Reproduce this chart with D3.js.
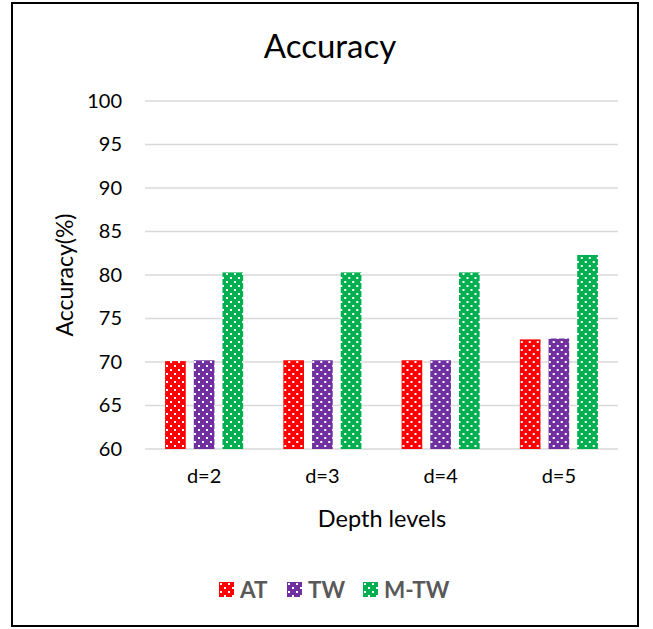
<!DOCTYPE html>
<html>
<head>
<meta charset="utf-8">
<script src="https://cdn.jsdelivr.net/npm/d3@7"></script>
<style>
  body { margin: 0; background: #fff; }
  svg { font-family: Lato, "Open Sans", sans-serif; }
</style>
</head>
<body>
<svg width="653" height="629"></svg>
<script>
// chart data
const categories = ['d=2', 'd=3', 'd=4', 'd=5'];
const seriesNames = ['AT', 'TW', 'M-TW'];
const atValues = [70.1, 70.2, 70.2, 72.6];
const twValues = [70.2, 70.2, 70.2, 72.7];
const mtwValues = [80.3, 80.3, 80.3, 82.3];
const yTicks = [60, 65, 70, 75, 80, 85, 90, 95, 100];
const colors = ['#ff0000', '#7030a0', '#00b050'];

const seriesValues = [atValues, twValues, mtwValues];

const svg = d3.select('svg');
const width = 653, height = 629;
const padding = {top: 101, right: 35, bottom: 180, left: 145};

// outer frame
svg.append('rect')
    .attr('x', 12).attr('y', 3)
    .attr('width', 626).attr('height', 623)
    .attr('fill', '#fff')
    .attr('stroke', '#000')
    .attr('stroke-width', 2);

// dotted fill patterns, one per series
const defs = svg.append('defs');
colors.forEach((c, i) => {
    const p = defs.append('pattern')
        .attr('id', 'dots' + i)
        .attr('patternUnits', 'userSpaceOnUse')
        .attr('width', 8).attr('height', 8);
    p.append('rect').attr('width', 8).attr('height', 8).attr('fill', c);
    p.append('rect').attr('x', 1).attr('y', 1).attr('width', 2).attr('height', 2).attr('fill', '#fff');
    p.append('rect').attr('x', 5).attr('y', 5).attr('width', 2).attr('height', 2).attr('fill', '#fff');
});

const x0 = d3.scaleBand()
    .domain(categories)
    .range([padding.left, width - padding.right])
    .padding(0);

const x1 = d3.scaleBand()
    .domain(seriesNames)
    .range([x0.bandwidth() * 0.17, x0.bandwidth() * 0.83])
    .paddingInner(0.28)
    .paddingOuter(0);

const yScale = d3.scaleLinear()
    .domain([60, 100])
    .range([height - padding.bottom, padding.top]);

// gridlines
svg.append('g')
    .selectAll('line')
    .data(yTicks)
    .enter().append('line')
    .attr('x1', padding.left)
    .attr('x2', width - padding.right)
    .attr('y1', d => yScale(d))
    .attr('y2', d => yScale(d))
    .attr('stroke', '#d9d9d9')
    .attr('stroke-width', 1.5);

// bars
const groups = svg.append('g')
    .selectAll('g')
    .data(categories)
    .enter().append('g')
    .attr('transform', d => `translate(${x0(d)},0)`);

groups.selectAll('rect')
    .data((d, ci) => seriesNames.map((s, si) => ({series: s, si: si, value: seriesValues[si][ci]})))
    .enter().append('rect')
    .attr('x', d => x1(d.series))
    .attr('y', d => yScale(d.value))
    .attr('width', x1.bandwidth())
    .attr('height', d => yScale(60) - yScale(d.value))
    .attr('fill', d => `url(#dots${d.si})`);

// y axis tick labels
const yAxis = svg.append('g')
    .attr('transform', `translate(${padding.left - 23},0)`)
    .call(d3.axisLeft(yScale).tickValues(yTicks).tickSize(0).tickPadding(0));
yAxis.select('.domain').remove();
yAxis.selectAll('text')
    .attr('font-size', 20)
    .attr('font-family', 'Lato, "Open Sans", sans-serif')
    .attr('fill', '#000');

// x axis labels
const xAxis = svg.append('g')
    .attr('transform', `translate(0,${height - padding.bottom + 16})`)
    .call(d3.axisBottom(x0).tickSize(0).tickPadding(4));
xAxis.select('.domain').remove();
xAxis.selectAll('text')
    .attr('font-size', 20)
    .attr('font-family', 'Lato, "Open Sans", sans-serif')
    .attr('fill', '#000');

// titles
svg.append('text')
    .attr('x', 330).attr('y', 58)
    .attr('text-anchor', 'middle')
    .attr('font-size', 33)
    .attr('fill', '#000')
    .text('Accuracy');

svg.append('text')
    .attr('x', 382).attr('y', 527)
    .attr('text-anchor', 'middle')
    .attr('font-size', 23.5)
    .attr('fill', '#000')
    .text('Depth levels');

svg.append('text')
    .attr('transform', `translate(73,275) rotate(-90)`)
    .attr('text-anchor', 'middle')
    .attr('font-size', 23)
    .attr('fill', '#000')
    .text('Accuracy(%)');

// legend
const legendX = [219, 287, 363];
const legend = svg.append('g')
    .selectAll('g')
    .data(seriesNames)
    .enter().append('g')
    .attr('transform', (d, i) => `translate(${legendX[i]},582)`);
legend.append('rect')
    .attr('width', 15).attr('height', 15)
    .attr('fill', (d, i) => `url(#dots${i})`);
legend.append('text')
    .attr('x', 21).attr('y', 16)
    .attr('font-size', 22.5)
    .attr('font-weight', 'bold')
    .attr('fill', '#595959')
    .text(d => d);
</script>
</body>
</html>
